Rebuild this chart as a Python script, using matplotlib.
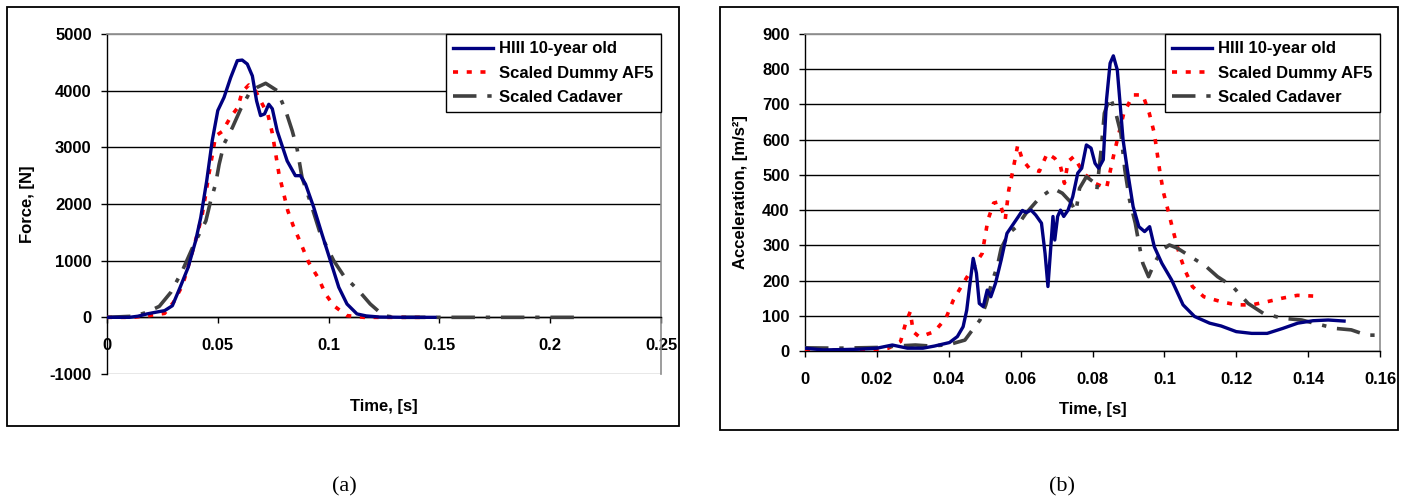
import numpy as np
import matplotlib.pyplot as plt
from matplotlib.patches import Rectangle

plt.rcParams['font.family'] = ['Liberation Sans', 'DejaVu Sans']
plt.rcParams['font.weight'] = 'bold'
plt.rcParams['axes.labelweight'] = 'bold'
plt.rcParams['axes.unicode_minus'] = False

# (a) Force vs time
f_t_hiii = [0, 0.010, 0.014, 0.018, 0.022, 0.026, 0.0295, 0.033, 0.0366, 0.040, 0.0423,
            0.045, 0.0475, 0.050, 0.0528, 0.0558, 0.0588, 0.061, 0.0633, 0.0656, 0.0675,
            0.0693, 0.0711, 0.073, 0.0746, 0.0768, 0.0813, 0.085, 0.0873, 0.0896, 0.0933,
            0.097, 0.1008, 0.1046, 0.1083, 0.1128, 0.117, 0.123, 0.135, 0.148]
f_hiii = [0, 0, 20, 60, 90, 118, 205, 530, 880, 1350, 1760,
          2410, 3120, 3650, 3880, 4230, 4530, 4540, 4470, 4260, 3820,
          3560, 3590, 3760, 3680, 3290, 2760, 2500, 2500, 2350, 1940,
          1470, 1000, 530, 235, 60, 25, 5, 0, 0]

f_t_af5 = [0, 0.0116, 0.019, 0.026, 0.030, 0.034, 0.0363, 0.041, 0.043, 0.0446, 0.046,
           0.0476, 0.049, 0.052, 0.056, 0.059, 0.061, 0.064, 0.067, 0.0693, 0.0726,
           0.0746, 0.0776, 0.0816, 0.084, 0.0873, 0.091, 0.0956, 0.0986, 0.1023, 0.1083,
           0.116, 0.143]
f_af5 = [0, 0, 30, 70, 265, 560, 850, 1500, 1820, 2180, 2530,
         2880, 3200, 3280, 3550, 3700, 3980, 4100, 4000, 3820, 3580,
         3250, 2530, 1880, 1620, 1320, 970, 676, 412, 206, 30,
         0, 0]

f_t_cad = [0, 0.012, 0.018, 0.0236, 0.0288, 0.034, 0.0393, 0.0446, 0.0468, 0.049, 0.0506,
           0.0528, 0.0566, 0.0603, 0.064, 0.0678, 0.0716, 0.0768, 0.0806, 0.0836, 0.0858,
           0.088, 0.0918, 0.0963, 0.1023, 0.1068, 0.1136, 0.1188, 0.1248, 0.130, 0.215]
f_cad = [0, 20, 88, 194, 441, 823, 1290, 1700, 2060, 2350, 2700,
         3060, 3350, 3675, 3940, 4060, 4130, 4000, 3650, 3290, 2970,
         2470, 2030, 1470, 1000, 735, 470, 235, 30, 0, 0]

# (b) Acceleration vs time
a_t_hiii = [0, 0.0051, 0.0147, 0.020, 0.0243, 0.0285, 0.0328, 0.036, 0.0402, 0.0424,
            0.044, 0.045, 0.0458, 0.0468, 0.0477, 0.0485, 0.0496, 0.0507, 0.0517, 0.053,
            0.0546, 0.0562, 0.0578, 0.0594, 0.0605, 0.0615, 0.0629, 0.0642, 0.0658, 0.0668,
            0.0676, 0.0684, 0.069, 0.0695, 0.0703, 0.0711, 0.072, 0.0732, 0.0745, 0.0759,
            0.077, 0.0783, 0.0796, 0.0807, 0.0817, 0.083, 0.0839, 0.0849, 0.0858, 0.0869,
            0.0879, 0.0885, 0.0897, 0.0913, 0.0929, 0.0945, 0.0959, 0.0972, 0.0993, 0.102,
            0.1052, 0.1084, 0.1126, 0.1158, 0.120, 0.1243, 0.1286, 0.1329, 0.1371, 0.1414,
            0.1456, 0.150]
a_hiii = [8, 3, 5, 8, 17, 8, 8, 14, 24, 41,
          69, 116, 183, 263, 221, 135, 126, 173, 154, 192,
          259, 334, 358, 382, 399, 393, 400, 386, 363, 277,
          183, 296, 382, 315, 382, 400, 382, 400, 438, 505,
          519, 585, 576, 533, 519, 543, 713, 817, 838, 798,
          675, 600, 514, 410, 353, 339, 353, 296, 249, 202,
          131, 98, 79, 71, 55, 50, 50, 64, 79, 86,
          88, 85]

a_t_af5 = [0, 0.010, 0.020, 0.0232, 0.0266, 0.028, 0.0293, 0.0301, 0.0317, 0.0333,
           0.036, 0.0392, 0.0413, 0.044, 0.0466, 0.0493, 0.0509, 0.0525, 0.0541, 0.0557,
           0.0567, 0.0578, 0.0592, 0.0605, 0.0624, 0.0652, 0.0674, 0.0695, 0.0711, 0.0722,
           0.0732, 0.0748, 0.0775, 0.0807, 0.0839, 0.086, 0.0887, 0.0913, 0.094, 0.0958,
           0.0972, 0.0988, 0.0998, 0.1011, 0.1025, 0.1041, 0.1057, 0.1078, 0.111, 0.1158,
           0.120, 0.1243, 0.1286, 0.1328, 0.137, 0.1414]
a_af5 = [3, 3, 5, 8, 27, 79, 112, 55, 41, 45,
         55, 93, 145, 192, 235, 277, 372, 420, 424, 372,
         457, 510, 585, 543, 519, 510, 561, 547, 524, 476,
         538, 552, 505, 476, 462, 561, 675, 727, 727, 675,
         618, 505, 448, 396, 339, 277, 230, 183, 154, 140,
         131, 131, 140, 150, 158, 156]

a_t_cad = [0, 0.0094, 0.020, 0.0253, 0.0307, 0.035, 0.040, 0.0445, 0.0466, 0.0487,
           0.0503, 0.0519, 0.0535, 0.0546, 0.0567, 0.0589, 0.0615, 0.0652, 0.069, 0.0716,
           0.0738, 0.0754, 0.0764, 0.0783, 0.0801, 0.0812, 0.0823, 0.0833, 0.0849, 0.0865,
           0.0879, 0.089, 0.0903, 0.0919, 0.0929, 0.094, 0.0956, 0.0972, 0.0993, 0.1014,
           0.1036, 0.1073, 0.1116, 0.1148, 0.119, 0.1233, 0.1275, 0.1328, 0.1382, 0.1424,
           0.1477, 0.152, 0.1563, 0.160]
a_cad = [9, 8, 10, 14, 17, 14, 18, 31, 60, 88,
         131, 192, 240, 292, 334, 353, 391, 434, 462, 448,
         424, 396, 462, 495, 481, 457, 561, 675, 722, 675,
         618, 514, 429, 363, 306, 249, 211, 249, 287, 301,
         292, 268, 240, 211, 183, 135, 107, 93, 88, 77,
         64, 60, 45, 45]

labels = ["HIII 10-year old", "Scaled Dummy AF5", "Scaled Cadaver"]
f_xticks = [0, 0.05, 0.1, 0.15, 0.2, 0.25]
f_xlabels = ["0", "0.05", "0.1", "0.15", "0.2", "0.25"]
f_yticks = [-1000, 0, 1000, 2000, 3000, 4000, 5000]
a_xticks = [0, 0.02, 0.04, 0.06, 0.08, 0.1, 0.12, 0.14, 0.16]
a_xlabels = ["0", "0.02", "0.04", "0.06", "0.08", "0.1", "0.12", "0.14", "0.16"]
a_yticks = [0, 100, 200, 300, 400, 500, 600, 700, 800, 900]

NAVY = '#000080'
RED = '#ff0000'
GRAY = '#404040'
LIGHT = '#8c8c8c'

fig = plt.figure(figsize=(14.08, 5.0), dpi=100)
W, H = 1408, 500


def px_axes(x0, x1, ytop, ybot):
    return fig.add_axes([x0 / W, 1 - ybot / H, (x1 - x0) / W, (ybot - ytop) / H])


def draw_series(ax, data):
    (t1, y1), (t2, y2), (t3, y3) = data
    ax.plot(t1, y1, color=NAVY, lw=2.4, solid_joinstyle='round', label=labels[0], zorder=4)
    ax.plot(t2, y2, color=RED, lw=2.6, linestyle=(0, (1.4, 2.4)), dash_capstyle='butt',
            label=labels[1], zorder=3)
    ax.plot(t3, y3, color=GRAY, lw=2.6, linestyle=(0, (6.5, 3, 1.2, 3)), dash_capstyle='butt',
            label=labels[2], zorder=3)


def style_axes(ax, xt, xl, yt):
    ax.set_xticks(xt)
    ax.set_xticklabels(xl)
    ax.set_yticks(yt)
    ax.set_xlim(xt[0], xt[-1])
    ax.set_ylim(yt[0], yt[-1])
    ax.tick_params(axis='both', labelsize=12, direction='out', length=4, width=1, color='black')
    ax.tick_params(axis='x', pad=11)
    ax.tick_params(axis='y', pad=7)
    ax.set_axisbelow(True)
    ax.yaxis.grid(True, color='black', lw=1)
    ax.xaxis.grid(False)
    for s in ['top', 'right']:
        ax.spines[s].set_color(LIGHT)
        ax.spines[s].set_linewidth(1.2)
    for s in ['left', 'bottom']:
        ax.spines[s].set_color('black')
        ax.spines[s].set_linewidth(1)
    gl = ax.get_ygridlines()
    gl[-1].set_color(LIGHT)
    leg = ax.legend(loc='upper right', bbox_to_anchor=(1, 1), borderaxespad=0, fontsize=12,
                    handlelength=2.4, handletextpad=0.35, labelspacing=0.55, borderpad=0.45,
                    fancybox=False, framealpha=1, edgecolor='black')
    leg.get_frame().set_linewidth(1.0)
    return gl


# panel (a)
ax1 = px_axes(107, 661, 34, 374)
draw_series(ax1, [(f_t_hiii, f_hiii), (f_t_af5, f_af5), (f_t_cad, f_cad)])
gl = style_axes(ax1, f_xticks, f_xlabels, f_yticks)
gl[0].set_color(LIGHT)
ax1.spines['bottom'].set_position(('data', 0))
ax1.set_xlabel("Time, [s]", fontsize=12, va='top')
ax1.xaxis.set_label_coords(0.5, -0.075)
ax1.set_ylabel("Force, [N]", fontsize=12)
ax1.yaxis.set_label_coords(-0.13, 0.5)

# panel (b)
ax2 = px_axes(805, 1380, 34, 351)
draw_series(ax2, [(a_t_hiii, a_hiii), (a_t_af5, a_af5), (a_t_cad, a_cad)])
style_axes(ax2, a_xticks, a_xlabels, a_yticks)
ax2.set_xlabel("Time, [s]", fontsize=12, va='top')
ax2.xaxis.set_label_coords(0.5, -0.16)
ax2.set_ylabel("Acceleration, [m/s²]", fontsize=12)
ax2.yaxis.set_label_coords(-0.099, 0.5)

# outer frames
for x0, x1, y0, y1 in [(7, 679, 7, 426), (720, 1398, 7, 430)]:
    fig.patches.append(Rectangle((x0 / W, 1 - y1 / H), (x1 - x0) / W, (y1 - y0) / H,
                                 transform=fig.transFigure, fill=False, ec='black', lw=1.3))

fig.text(344 / W, 1 - 487 / H, "(a)", family='Liberation Serif', fontweight='normal',
         fontsize=16, ha='center', va='center')
fig.text(1062 / W, 1 - 487 / H, "(b)", family='Liberation Serif', fontweight='normal',
         fontsize=16, ha='center', va='center')

fig.savefig("out.png", dpi=100)
